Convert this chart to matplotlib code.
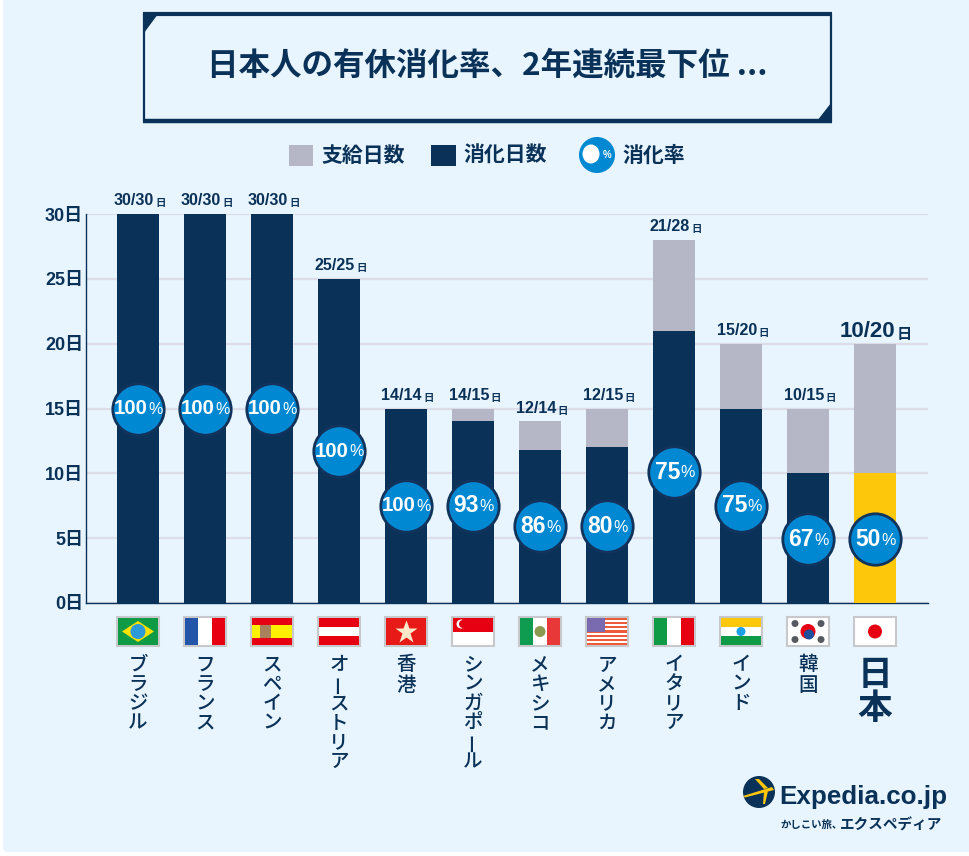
import matplotlib
matplotlib.use("Agg")
import matplotlib.pyplot as plt
from matplotlib.patches import Rectangle, Circle, Polygon, FancyBboxPatch, Ellipse

NAVY = "#0a3157"
GRAY = "#b5b6c6"
YELLOW = "#fdc70c"
BLUE = "#0088d2"
BG = "#e8f5fe"
GRID = "#dddde9"
LATIN = ["Liberation Sans", "Noto Sans CJK JP", "DejaVu Sans"]
CJK = ["Noto Sans CJK JP", "DejaVu Sans"]

countries = ["ブラジル", "フランス", "スペイン", "オーストリア", "香港", "シンガポール",
             "メキシコ", "アメリカ", "イタリア", "インド", "韓国", "日本"]
granted = [30, 30, 30, 25, 15, 15, 14, 15, 28, 20, 15, 20]
used = [30, 30, 30, 25, 15, 14, 11.8, 12, 21, 15, 10, 10]
day_labels = ["30/30", "30/30", "30/30", "25/25", "14/14", "14/15",
              "12/14", "12/15", "21/28", "15/20", "10/15", "10/20"]
rates = [100, 100, 100, 100, 100, 93, 86, 80, 75, 75, 67, 50]
bubble_y = [15, 15, 15, 11.7, 7.5, 7.5, 5.9, 5.9, 10.1, 7.5, 4.9, 4.9]
yticks = [0, 5, 10, 15, 20, 25, 30]
ytick_labels = ["0日", "5日", "10日", "15日", "20日", "25日", "30日"]

W, H = 969, 856
fig = plt.figure(figsize=(W / 100, H / 100), dpi=100, facecolor="white")

# full-figure pixel layer for decoration
bgax = fig.add_axes([0, 0, 1, 1], zorder=0)
bgax.set_xlim(0, W); bgax.set_ylim(H, 0); bgax.axis("off")
bgax.add_patch(FancyBboxPatch((3, -20), W + 20, 872, boxstyle="round,pad=0,rounding_size=5",
                              fc=BG, ec="none"))

# main chart
L, R, T, B = 86, 928, 214, 603
ax = fig.add_axes([L / W, 1 - B / H, (R - L) / W, (B - T) / H], zorder=1)
ax.patch.set_alpha(0)
ax.set_ylim(0, 30)
ax.set_xlim((L - 138) / 67, (R - 138) / 67)
x = list(range(len(countries)))
ax.set_axisbelow(True)
ax.yaxis.grid(True, color=GRID, lw=1.6)
ax.set_yticks(yticks)
ax.set_yticklabels(ytick_labels, family=LATIN, fontsize=13, fontweight="bold", color=NAVY)
ax.tick_params(axis="y", length=0, pad=2)
ax.set_xticks([])
for s in ("top", "right"):
    ax.spines[s].set_visible(False)
for s in ("left", "bottom"):
    ax.spines[s].set_color(NAVY)
    ax.spines[s].set_linewidth(1)

bar_w = 42 / 67
ax.bar(x, granted, width=bar_w, color=GRAY, zorder=2, clip_on=False)
ax.bar(x, used, width=bar_w, color=[NAVY] * 11 + [YELLOW], zorder=3, clip_on=False)
ax.scatter(x, bubble_y, s=1370, color=BLUE, edgecolors="#12335c", linewidths=2,
           zorder=4, clip_on=False)

for i, (g, lab) in enumerate(zip(granted, day_labels)):
    big = i == len(countries) - 1
    fs, fs2 = (16, 11) if big else (11.6, 7.5)
    split = 20 if big else 16
    dy = 1 if big else 4
    ax.annotate(lab, (i, g), xytext=(split * 0.72, dy), textcoords="offset points",
                ha="right", va="bottom", family=LATIN,
                fontsize=fs, fontweight="bold", color=NAVY, annotation_clip=False, zorder=5)
    ax.annotate("日", (i, g), xytext=(split * 0.72 + 1, dy), textcoords="offset points",
                ha="left", va="bottom", family=CJK, fontsize=fs2, fontweight="bold", color=NAVY,
                annotation_clip=False, zorder=5)

for i, (yv, r) in enumerate(zip(bubble_y, rates)):
    split = 10 if r == 100 else 6
    fs = 14.7 if r == 100 else 16.5
    ax.annotate(str(r), (i, yv), xytext=(split * 0.72, 0), textcoords="offset points",
                ha="right", va="center", family=["Liberation Sans"], fontsize=fs, fontweight="bold",
                color="white", annotation_clip=False, zorder=6)
    ax.annotate("%", (i, yv), xytext=(split * 0.72, -0.5), textcoords="offset points",
                ha="left", va="center", family=["Liberation Sans"], fontsize=11.5,
                color="white", annotation_clip=False, zorder=6)

# pixel layer above the chart
ov = fig.add_axes([0, 0, 1, 1], zorder=2)
ov.set_xlim(0, W); ov.set_ylim(H, 0); ov.axis("off"); ov.patch.set_alpha(0)

# title frame
ov.add_patch(Rectangle((144, 14), 687, 107, fc="none", ec=NAVY, lw=1.6))
ov.plot([143, 832], [14, 14], color=NAVY, lw=3, solid_capstyle="butt")
ov.plot([143, 832], [120.5, 120.5], color=NAVY, lw=3.2, solid_capstyle="butt")
ov.add_patch(Polygon([(144, 14), (158, 14), (144, 33)], fc=NAVY, ec="none"))
ov.add_patch(Polygon([(831, 121), (817, 121), (831, 103)], fc=NAVY, ec="none"))
ov.text(487, 66, "日本人の有休消化率、2年連続最下位 ...", ha="center", va="center", family=CJK,
        fontsize=22.7, fontweight="bold", color=NAVY)

# legend
ov.add_patch(Rectangle((289, 145), 24, 21, fc=GRAY, ec="none"))
ov.text(321, 155.5, "支給日数", ha="left", va="center", family=CJK, fontsize=15, fontweight="bold", color=NAVY)
ov.add_patch(Rectangle((431, 145), 25, 21, fc=NAVY, ec="none"))
ov.text(463, 155.5, "消化日数", ha="left", va="center", family=CJK, fontsize=15, fontweight="bold", color=NAVY)
ov.add_patch(Circle((597, 155), 18, fc=BLUE, ec="none"))
ov.add_patch(Ellipse((591, 154), 17, 19, fc="white", ec="none"))
ov.text(607, 155, "%", ha="center", va="center", family=["Liberation Sans"], fontsize=7, fontweight="bold", color="white")
ov.text(622, 155.5, "消化率", ha="left", va="center", family=CJK, fontsize=15, fontweight="bold", color=NAVY)


def rect(x0, y0, w, h, c):
    ov.add_patch(Rectangle((x0, y0), w, h, fc=c, ec="none"))


def flag(i, cx):
    x0, y0, w, h = cx - 20, 618, 40, 27
    ov.add_patch(Rectangle((x0 - 1, y0 - 1), w + 2, h + 2, fc="white", ec="#c6c8cc", lw=1.5))
    if i == 0:
        rect(x0, y0, w, h, "#0f9b46")
        ov.add_patch(Polygon([(x0 + 4, y0 + h / 2), (cx, y0 + 3), (x0 + w - 4, y0 + h / 2), (cx, y0 + h - 3)], fc="#fde100", ec="none"))
        ov.add_patch(Circle((cx, y0 + h / 2), 7.5, fc="#2a9bd8", ec="none"))
    elif i == 1:
        rect(x0, y0, w / 3, h, "#2356a8"); rect(x0 + 2 * w / 3, y0, w / 3, h, "#e60012")
    elif i == 2:
        rect(x0, y0, w, h, "#e60012"); rect(x0, y0 + h / 4, w, h / 2, "#fff100")
        rect(x0 + 8, y0 + 7, 11, 13, "#a8825a")
    elif i == 3:
        rect(x0, y0, w, h, "#e60012"); rect(x0, y0 + 9, w, 9, "white")
    elif i == 4:
        rect(x0, y0, w, h, "#e71a17")
        ov.plot([cx], [y0 + h / 2], marker="*", ms=17, color="#fde9c9", mec="none")
    elif i == 5:
        rect(x0, y0, w, h / 2, "#e60012")
        ov.add_patch(Circle((x0 + 8, y0 + 6), 4.5, fc="white", ec="none"))
        ov.add_patch(Circle((x0 + 10, y0 + 6), 4, fc="#e60012", ec="none"))
    elif i == 6:
        rect(x0, y0, w / 3, h, "#0f9b50"); rect(x0 + 2 * w / 3, y0, w / 3, h, "#e83838")
        ov.add_patch(Circle((cx, y0 + h / 2), 5.5, fc="#8a9a50", ec="none"))
    elif i == 7:
        for k in range(7):
            rect(x0, y0 + k * h / 6.5, w, h / 13, "#ee5a3a")
        rect(x0, y0, 18, 14, "#7a6ab0")
    elif i == 8:
        rect(x0, y0, w / 3, h, "#0f9b46"); rect(x0 + 2 * w / 3, y0, w / 3, h, "#e60012")
    elif i == 9:
        rect(x0, y0, w, h / 3, YELLOW); rect(x0, y0 + 2 * h / 3, w, h / 3, "#0f9b46")
        ov.add_patch(Circle((cx, y0 + h / 2), 4.5, fc="#1e9fe6", ec="none"))
    elif i == 10:
        ov.add_patch(Circle((cx, y0 + h / 2), 7.5, fc="#e60012", ec="none"))
        ov.add_patch(Circle((cx + 1, y0 + h / 2 + 3), 5, fc="#1d4f9c", ec="none"))
        for dx, dy in ((-13, -8), (13, -8), (-13, 8), (13, 8)):
            ov.add_patch(Circle((cx + dx, y0 + h / 2 + dy), 3.5, fc="#555a60", ec="none"))
    elif i == 11:
        ov.add_patch(Circle((cx, y0 + h / 2), 7, fc="#e60012", ec="none"))


for i, name in enumerate(countries):
    cx = 138 + 67 * i
    flag(i, cx)
    big = name == "日本"
    pitch = 34 if big else (20.5 if len(name) == 2 else 19.3)
    fs = 25 if big else 14
    y0 = 674 if big else 665
    for k, ch in enumerate(name):
        ov.text(cx, y0 + k * pitch, ch, ha="center", va="center", family=CJK, fontsize=fs,
                fontweight="bold" if big else 500, color=NAVY,
                rotation=90 if ch == "ー" else 0)

# logo
ov.add_patch(Circle((759, 792), 16, fc=NAVY, ec="none"))
ov.add_patch(Polygon([(743, 796), (772, 787), (774, 790), (745, 797.5)], fc=YELLOW, ec="none"))
ov.add_patch(Polygon([(755, 779), (759, 779), (768, 788), (764, 789)], fc=YELLOW, ec="none"))
ov.add_patch(Polygon([(764, 792), (768, 791), (765, 804), (763, 804)], fc=YELLOW, ec="none"))
ov.text(779, 797, "Expedia.co.jp", ha="left", va="center", family=["Liberation Sans"], fontsize=18.7,
        fontweight="bold", color=NAVY)
ov.text(780, 825, "かしこい旅、", ha="left", va="center", family=CJK, fontsize=7.5, fontweight="bold", color=NAVY)
ov.text(840, 825, "エクスペディア", ha="left", va="center", family=CJK, fontsize=10.5, fontweight="bold", color=NAVY)

fig.savefig("out.png", dpi=100, facecolor="white")
